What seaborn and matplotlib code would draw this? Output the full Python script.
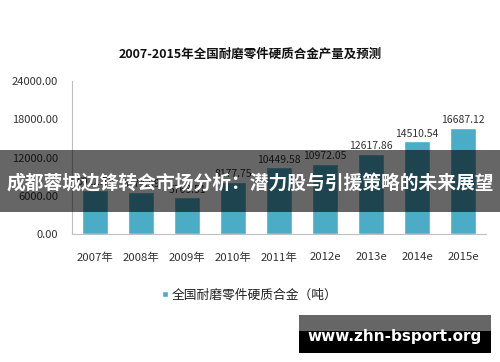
import matplotlib
matplotlib.use("Agg")
import matplotlib.pyplot as plt
import seaborn as sns
import pandas as pd
from matplotlib.patches import Rectangle

years = ["2007年", "2008年", "2009年", "2010年", "2011年", "2012e", "2013e", "2014e", "2015e"]
values = [6922.79, 6574.59, 5763.51, 8177.75, 10449.58, 10972.05, 12617.86, 14510.54, 16687.12]
title = "2007-2015年全国耐磨零件硬质合金产量及预测"
legend_label = "全国耐磨零件硬质合金（吨）"
y_ticks = [0, 6000, 12000, 18000, 24000]
banner = "成都蓉城边锋转会市场分析：潜力股与引援策略的未来展望"
watermark = "www.zhn-bsport.org"

sns.set_theme(style="white")
plt.rcParams['font.family'] = ['Noto Sans CJK SC', 'DejaVu Sans']

bar_color = "#4BACC6"
df = pd.DataFrame({"year": years, "value": values})

fig = plt.figure(figsize=(5, 3.62), dpi=100)
ax = fig.add_axes([0.144, 0.3528, 0.828, 0.4242])
sns.barplot(data=df, x="year", y="value", color=bar_color, width=0.56,
            saturation=1, ax=ax, label=legend_label)
ax.set_xlim(-0.5, len(years) - 0.5)
ax.set_ylim(0, 24000)
ax.set_yticks(y_ticks)
ax.set_yticklabels([f"{v:.2f}" for v in y_ticks])
ax.set_xlabel("")
ax.set_ylabel("")
for s in ["top", "right"]:
    ax.spines[s].set_visible(False)
for s in ["left", "bottom"]:
    ax.spines[s].set_color("#BFBFBF")
    ax.spines[s].set_linewidth(0.8)
ax.tick_params(axis="y", length=3, direction="in", color="#BFBFBF", pad=10,
               labelsize=8, labelcolor="#333333")
ax.tick_params(axis="x", length=0, pad=13, labelsize=8.2, labelcolor="#333333")
for c in ax.containers:
    ax.bar_label(c, labels=[f"{v:.2f}" for v in values], padding=2,
                 fontsize=7.5, color="#333333")

fig.text(0.5, 1 - 54 / 362, title, ha="center", va="center", fontsize=9,
         fontweight="bold", color="#111111")

leg = ax.legend(loc="center", bbox_to_anchor=(0.5, 1 - 295 / 362),
                bbox_transform=fig.transFigure, frameon=False, fontsize=9.2,
                handlelength=0.45, handleheight=0.45, handletextpad=0.3)
for t in leg.get_texts():
    t.set_color("#222222")

# banner overlay
fig.patches.append(Rectangle((0, 1 - 212 / 362), 1, 62 / 362, transform=fig.transFigure,
                             facecolor="black", alpha=0.6, edgecolor="none", zorder=10))
fig.text(0.5, 1 - 183 / 362, banner, ha="center", va="center", fontsize=13.5,
         fontweight="bold", color="white", zorder=11)

# watermark
fig.patches.append(Rectangle((299 / 500, 1 - 353 / 362), 192 / 500, 38 / 362,
                             transform=fig.transFigure, facecolor="black",
                             edgecolor="none", zorder=10))
fig.patches.append(Rectangle((299 / 500, 1 - 331 / 362), 192 / 500, 16 / 362,
                             transform=fig.transFigure, facecolor="#666666",
                             edgecolor="none", zorder=10))
fig.text(395 / 500, 1 - 337 / 362, watermark, ha="center", va="center", fontsize=11,
         fontweight="bold", color="white", family=["DejaVu Sans"], zorder=11)

fig.savefig("out.png", dpi=100)
